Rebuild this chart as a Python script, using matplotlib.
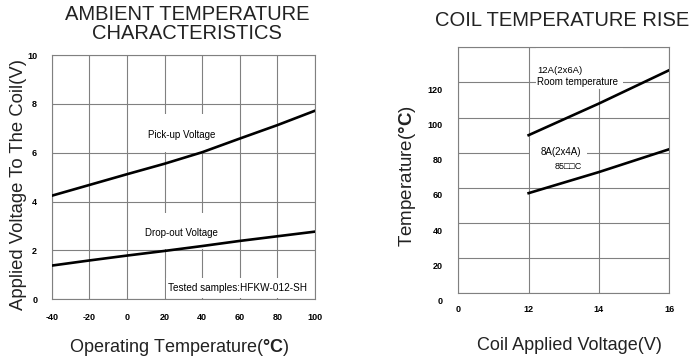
import matplotlib
matplotlib.use("Agg")
import matplotlib.pyplot as plt
import matplotlib.transforms as mtransforms
from matplotlib.patches import Rectangle
import numpy as np

plt.rcParams["font.family"] = ["Liberation Sans", "DejaVu Sans"]
plt.rcParams["mathtext.fontset"] = "custom"
plt.rcParams["mathtext.rm"] = "Liberation Sans"
plt.rcParams["mathtext.bf"] = "Liberation Sans:bold"
plt.rcParams["axes.unicode_minus"] = False

# ambient temperature characteristics (HFKW-012-SH)
temps = [-40, -20, 0, 20, 40, 60, 80, 100]
pickup_v = [4.24, 4.68, 5.12, 5.55, 6.02, 6.58, 7.13, 7.72]
dropout_v = [1.38, 1.59, 1.79, 1.98, 2.18, 2.39, 2.58, 2.77]
left_xticks = [-40, -20, 0, 20, 40, 60, 80, 100]
left_yticks = [0, 2, 4, 6, 8, 10]

# coil temperature rise
coil_v = [12, 14, 16]
rise_12a = [90, 108, 127]
rise_8a = [57, 69, 82]
right_xticks = [0, 12, 14, 16]
right_yticks = [0, 20, 40, 60, 80, 100, 120]

GRID = "#808080"


def style_axes(ax):
    ax.set_axisbelow(True)
    ax.grid(True, color=GRID, lw=0.8)
    for s in ax.spines.values():
        s.set_color(GRID)
        s.set_linewidth(0.8)
    ax.tick_params(length=0, labelsize=6.5)
    for lbl in ax.get_xticklabels() + ax.get_yticklabels():
        lbl.set_fontweight("bold")


def label_bg(ax, x0, x1, y0, y1):
    # white patch behind in-plot labels, hides part of the grid
    ax.add_patch(Rectangle((x0, y0), x1 - x0, y1 - y0, facecolor="white",
                           edgecolor="none", zorder=1))


fig = plt.figure(figsize=(7, 3.6), dpi=100)

# ---- left chart
ax1 = fig.add_axes([0.0739, 0.1686, 0.3761, 0.6786])
ax1.plot(temps, pickup_v, color="black", lw=1.9, zorder=3)
ax1.plot(temps, dropout_v, color="black", lw=1.9, zorder=3)
ax1.set_xlim(-40, 100)
ax1.set_ylim(0, 10)
ax1.set_xticks(left_xticks)
ax1.set_yticks(left_yticks)
ax1.tick_params(axis="x", pad=10)
ax1.tick_params(axis="y", pad=10.5)
style_axes(ax1)

label_bg(ax1, 10, 50, 6.04, 7.6)
label_bg(ax1, 10, 50, 2.04, 3.55)
label_bg(ax1, 21, 99.5, 0.04, 0.87)
ax1.text(29, 6.72, "Pick-up Voltage", fontsize=7, ha="center", va="center", zorder=4)
ax1.text(29, 2.70, "Drop-out Voltage", fontsize=7, ha="center", va="center", zorder=4)
ax1.text(59, 0.45, "Tested samples:HFKW-012-SH", fontsize=7.2, ha="center",
         va="center", zorder=4)

# ---- right chart (broken axis 0 | 12 14 16)
def fwd(x):
    return np.interp(x, right_xticks, np.arange(len(right_xticks)))


def inv(p):
    return np.interp(p, np.arange(len(right_xticks)), right_xticks)


ax2 = fig.add_axes([0.6547, 0.1853, 0.3014, 0.6833])
ax2.set_xscale("function", functions=(fwd, inv))
ax2.plot(coil_v, rise_12a, color="black", lw=1.9, zorder=3)
ax2.plot(coil_v, rise_8a, color="black", lw=1.9, zorder=3)
ax2.set_xlim(0, 16)
ax2.set_ylim(0, 140)
ax2.set_xticks(right_xticks)
ax2.set_xticklabels([str(t) for t in right_xticks])
ax2.set_yticks(right_yticks + [140])
ax2.set_yticklabels([str(t) for t in right_yticks] + [""])
ax2.tick_params(axis="x", pad=8.5)
ax2.tick_params(axis="y", pad=11)
style_axes(ax2)
shift = mtransforms.ScaledTranslation(0, -7 / 100, fig.dpi_scale_trans)
for lbl in ax2.get_yticklabels():
    lbl.set_transform(lbl.get_transform() + shift)

label_bg(ax2, 12.22, 14.68, 116.5, 139.5)
label_bg(ax2, 12.05, 13.66, 63, 86)
ax2.text(12.25, 126.9, "12A(2x6A)", fontsize=6.8, ha="left", va="center", zorder=4)
ax2.text(12.25, 120.5, "Room temperature", fontsize=7, ha="left", va="center", zorder=4)
ax2.text(12.35, 80.5, "8A(2x4A)", fontsize=7, ha="left", va="center", zorder=4)
ax2.text(12.75, 72, "85\u25a1\u25a1C", fontsize=6.5, ha="left", va="center", zorder=4)

# ---- titles and axis labels
fig.text(187 / 700, 1 - 24 / 360, "AMBIENT TEMPERATURE\nCHARACTERISTICS",
         ha="center", va="center", fontsize=14.5, linespacing=0.95, color="#222222")
fig.text(562 / 700, 1 - 21 / 360, "COIL TEMPERATURE RISE",
         ha="center", va="center", fontsize=14.5, color="#222222")
fig.text(179 / 700, 1 - 348 / 360, r"Operating Temperature($\mathbf{°C}$)",
         ha="center", va="center", fontsize=13, color="#222222")
fig.text(18.5 / 700, 1 - 185 / 360, "Applied Voltage To The Coil(V)",
         ha="center", va="center", fontsize=13.3, rotation=90, color="#222222")
fig.text(569 / 700, 1 - 346 / 360, "Coil Applied Voltage(V)",
         ha="center", va="center", fontsize=13, color="#222222")
fig.text(408 / 700, 1 - 176 / 360, r"Temperature($\mathbf{°C}$)",
         ha="center", va="center", fontsize=13.5, rotation=90, color="#222222")

fig.savefig("out.png", dpi=100)
